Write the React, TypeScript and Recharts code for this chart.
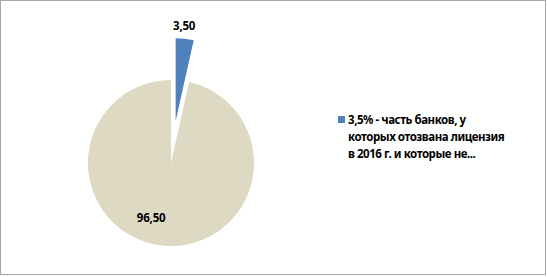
import { PieChart, Pie, Cell, Legend } from 'recharts';

const categories = [
  '3,5% - часть банков, у которых отозвана лицензия в 2016 г. и которые не...',
  'прочие банки',
];
const values = [3.5, 96.5];
const valueLabels = ['3,50', '96,50'];
const legendLines = ['3,5% - часть банков, у', 'которых отозвана лицензия', 'в 2016 г. и которые не...'];

const COLORS = ['#4F81BD', '#DDD9C3'];
const FONT = '"Noto Sans", "Open Sans", sans-serif';

const data = categories.map((name, i) => ({ name, value: values[i], label: valueLabels[i] }));

const RADIAN = Math.PI / 180;
const CX = 166;
const CY = 158;
const R = 83;
const EXPLODE = 42;

// exploded slice sits offset along its mid angle
const total = values.reduce((a, b) => a + b, 0);
const midSmall = 90 - (values[0] / total) * 180;
const exCx = CX + EXPLODE * Math.cos(midSmall * RADIAN);
const exCy = CY - EXPLODE * Math.sin(midSmall * RADIAN);

const renderLabel = (show: number) => (props: any) => {
  const { cx, cy, midAngle, outerRadius, index } = props;
  if (index !== show) return null;
  let x: number;
  let y: number;
  if (index === 0) {
    const r = outerRadius + 13;
    x = cx + r * Math.cos(-midAngle * RADIAN) - 2;
    y = cy + r * Math.sin(-midAngle * RADIAN);
  } else {
    const r = outerRadius * 0.7;
    const a = -110;
    x = cx + r * Math.cos(a * RADIAN);
    y = cy - r * Math.sin(a * RADIAN);
  }
  return (
    <text
      x={x}
      y={y}
      fill="#000"
      textAnchor="middle"
      dominantBaseline="central"
      style={{ fontFamily: FONT, fontSize: 11.5, fontWeight: 700, letterSpacing: -0.2 }}
    >
      {data[index].label}
    </text>
  );
};

const renderLegend = () => (
  <div
    style={{
      fontFamily: FONT,
      fontSize: 11.5,
      fontWeight: 700,
      color: '#000',
      lineHeight: '17px',
      letterSpacing: -0.45,
    }}
  >
    <div style={{ position: 'relative', paddingLeft: 10 }}>
      <span
        style={{
          position: 'absolute',
          left: 0,
          top: 5,
          width: 7,
          height: 7,
          background: COLORS[0],
        }}
      />
      {legendLines.map((l, i) => (
        <div key={i} style={{ whiteSpace: 'nowrap' }}>
          {l}
        </div>
      ))}
    </div>
  </div>
);

export default function App() {
  return (
    <div style={{ position: 'absolute', left: 0, top: 0, width: 547, height: 277, background: '#fff' }}>
      <div
        style={{
          position: 'absolute',
          left: 0,
          top: 0,
          width: 546,
          height: 275,
          border: '1px solid #A6A6A6',
          boxSizing: 'border-box',
        }}
      />
      <PieChart width={547} height={277} style={{ position: 'absolute', left: 0, top: 0 }}>
        <Pie
          data={data}
          dataKey="value"
          cx={CX}
          cy={CY}
          outerRadius={R}
          startAngle={90}
          endAngle={-270}
          stroke="none"
          labelLine={false}
          label={renderLabel(1)}
          isAnimationActive={false}
        >
          {data.map((d, i) => (
            <Cell key={`a-${i}`} fill={i === 1 ? COLORS[1] : 'none'} />
          ))}
        </Pie>
        <Pie
          data={data}
          dataKey="value"
          cx={exCx}
          cy={exCy}
          outerRadius={R}
          startAngle={90}
          endAngle={-270}
          stroke="none"
          labelLine={false}
          label={renderLabel(0)}
          isAnimationActive={false}
          legendType="none"
        >
          {data.map((d, i) => (
            <Cell key={`b-${i}`} fill={i === 0 ? COLORS[0] : 'none'} />
          ))}
        </Pie>
        <Legend
          content={renderLegend}
          wrapperStyle={{ position: 'absolute', left: 338, top: 111, width: 200 }}
        />
      </PieChart>
    </div>
  );
}
